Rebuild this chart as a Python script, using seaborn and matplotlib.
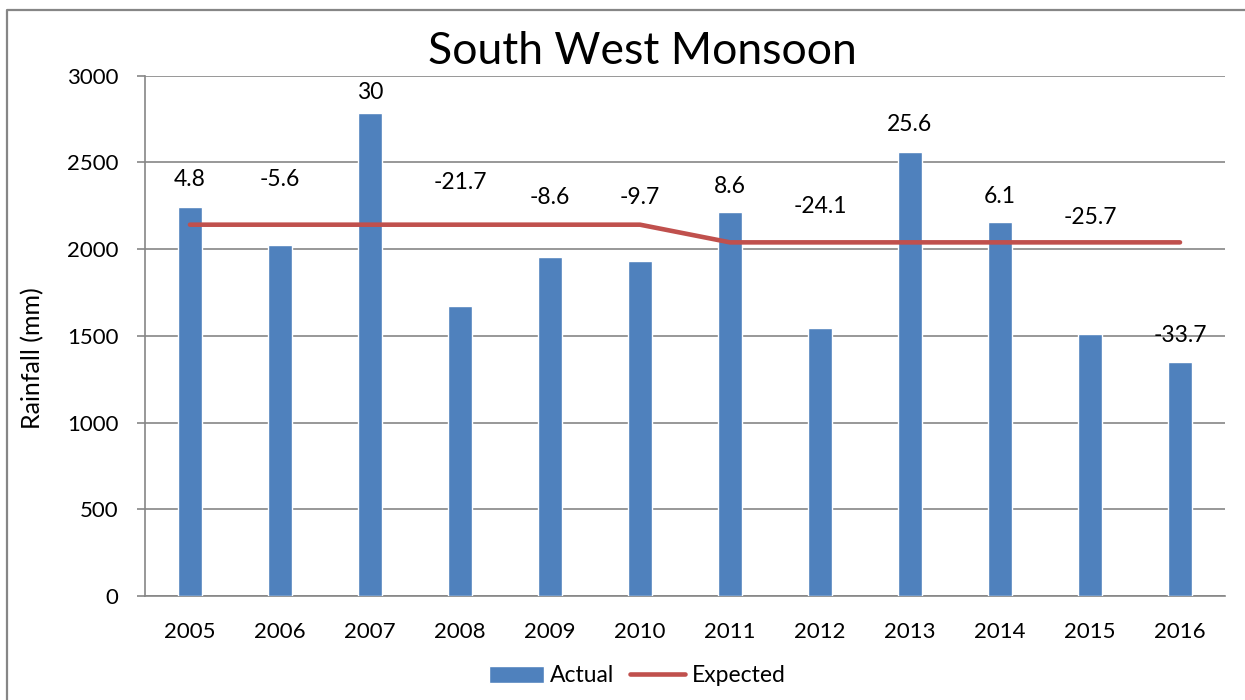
import numpy as np
import pandas as pd
import seaborn as sns
import matplotlib.pyplot as plt
from matplotlib.patches import Patch
from matplotlib.lines import Line2D


# DATA
years = ["2005", "2006", "2007", "2008", "2009", "2010",
         "2011", "2012", "2013", "2014", "2015", "2016"]
actual = [2245, 2022, 2783, 1674, 1957, 1930, 2212, 1545, 2560, 2158, 1511, 1349]
expected = [2141, 2141, 2141, 2141, 2141, 2141, 2039, 2039, 2039, 2039, 2039, 2039]
departure = ["4.8", "-5.6", "30", "-21.7", "-8.6", "-9.7",
             "8.6", "-24.1", "25.6", "6.1", "-25.7", "-33.7"]
# label heights (data units), placed by hand in the original chart
label_pos = [2400, 2400, 2905, 2387, 2300, 2295, 2364, 2243, 2716, 2306, 2180, 1500]

df = pd.DataFrame({"Year": years, "Actual": actual, "Expected": expected})

bar_col = "#4F81BD"
line_col = "#C0504D"
grid_col = "#868686"

sns.set_theme(style="white", rc={"text.color": "black",
                                 "xtick.color": "black", "ytick.color": "black"})
plt.rcParams["font.family"] = ["Lato", "DejaVu Sans"]

fig = plt.figure(figsize=(12.45, 7.0), dpi=100)
ax = fig.add_axes([145 / 1245, 1 - 596 / 700, 1080 / 1245, (596 - 75.7) / 700])

sns.barplot(data=df, x="Year", y="Actual", color=bar_col, width=0.256,
            saturation=1, ax=ax, zorder=3)
ax.plot(np.arange(len(years)), df["Expected"], color=line_col, lw=3.3,
        solid_capstyle="round", zorder=4)

for i, (txt, yp) in enumerate(zip(departure, label_pos)):
    ax.text(i, yp, txt, ha="center", va="center", fontsize=16.5, color="black", zorder=5)

# axes styling
ax.set_xlim(-0.5, len(years) - 0.5)
ax.set_ylim(0, 3000)
ax.set_yticks(np.arange(0, 3001, 500))
ax.yaxis.grid(True, color=grid_col, lw=1.2)
ax.set_axisbelow(True)
for s in ["top", "right"]:
    ax.spines[s].set_visible(False)
for s in ["left", "bottom"]:
    ax.spines[s].set_color(grid_col)
    ax.spines[s].set_linewidth(1.2)

ax.set_xticks(np.arange(-0.5, len(years), 1), minor=True)
ax.tick_params(axis="x", which="major", length=0, labelsize=16, pad=19,
               labelcolor="black")
ax.tick_params(axis="x", which="minor", length=6, color=grid_col, width=1.2, direction="out")
ax.tick_params(axis="y", length=6, color=grid_col, width=1.2, labelsize=16,
               direction="out", left=True, pad=13, labelcolor="black")

ax.set_xlabel("")
ax.set_ylabel("")
fig.text(33 / 1245, 1 - 358 / 700, "Rainfall (mm)", rotation=90, fontsize=18,
         ha="center", va="center", color="black")
fig.text(642 / 1245, 1 - 52 / 700, "South West Monsoon", fontsize=32,
         ha="center", va="center", color="black")

handles = [Patch(facecolor=bar_col, label="Actual"),
           Line2D([0], [0], color=line_col, lw=3.3, label="Expected")]
fig.legend(handles=handles, loc="center", bbox_to_anchor=(637 / 1245, 1 - 676 / 700),
           ncol=2, frameon=False, fontsize=16.5, handlelength=2.4, handleheight=0.7,
           columnspacing=0.7, handletextpad=0.27, borderpad=0, labelcolor="black")

# chart border (left and top edges visible)
fig.add_artist(Line2D([7 / 1245, 7 / 1245, 1], [0, 1 - 10 / 700, 1 - 10 / 700],
                      transform=fig.transFigure, color=grid_col, lw=1.6))

fig.savefig("out.png", dpi=100)
